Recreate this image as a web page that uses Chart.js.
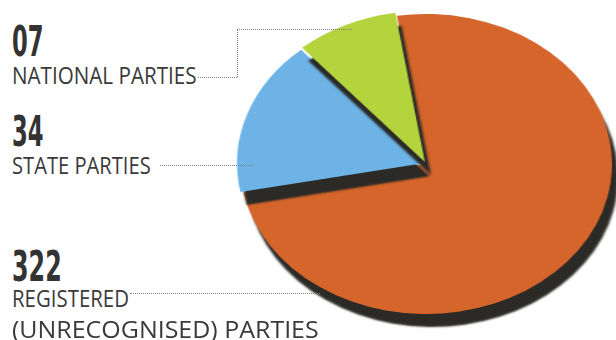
<!DOCTYPE html>
<html>
<head>
<meta charset="utf-8">
<script src="https://cdn.jsdelivr.net/npm/chart.js@4.4.1/dist/chart.umd.min.js"></script>
<style>
  html, body { margin: 0; padding: 0; background: #fff; }
  body { width: 616px; height: 340px; position: relative; overflow: hidden; }
  #pieWrap {
    position: absolute; left: 266px; top: 2px; width: 320px; height: 340px;
    transform: scaleX(1.24); transform-origin: 160px 50%;
  }
  .num, .txt { position: absolute; left: 12px; white-space: nowrap; transform-origin: 0 0; }
  .num { font-family: "DejaVu Sans Condensed", "DejaVu Sans", sans-serif; font-weight: bold; font-size: 42px; line-height: 1; color: #333; }
  .txt { font-family: "Open Sans", "Noto Sans", sans-serif; font-size: 24px; line-height: 1; color: #3a3a3a; }
  .lead { position: absolute; border-color: #7d7d7d; border-style: dotted; border-width: 0; z-index: 2; }
</style>
</head>
<body>
<div id="pieWrap"><canvas id="pieCanvasChart" width="320" height="340"></canvas></div>
<div id="labels"></div>
<div class="lead" style="left:198px; top:77px; width:39px; border-top-width:1px;"></div>
<div class="lead" style="left:237px; top:29px; height:48px; border-left-width:1px;"></div>
<div class="lead" style="left:237px; top:29px; width:115px; border-top-width:1px;"></div>
<div class="lead" style="left:160px; top:165px; width:93px; border-top-width:1px;"></div>
<div class="lead" style="left:130px; top:293px; width:190px; border-top-width:1px;"></div>
<script>
// party counts printed next to the pie
const partyCounts = ["07", "34", "322"];
const partyNames = [
  ["NATIONAL PARTIES"],
  ["STATE PARTIES"],
  ["REGISTERED", "(UNRECOGNISED) PARTIES"],
];

// pie slices, clockwise from the top: the artwork isn't drawn to scale,
// so the shares are the slice angles (degrees)
const sliceLabels = ["Registered (unrecognised) parties", "State parties", "National parties"];
const sliceShare = [268, 60, 32];
const sliceColors = ["#d5652b", "#6db3e6", "#b4d43e"];

document.addEventListener("DOMContentLoaded", () => {
  // text blocks on the left (the source squeezes each line differently)
  const labelBox = document.getElementById("labels");
  const numTops = [21, 111, 246];
  const numSqueeze = [0.6, 0.6, 0.63];
  const lineTops = [[63], [153], [286, 317]];
  const lineSqueeze = [[0.86], [0.84], [0.85, 1.04]];
  partyCounts.forEach((count, i) => {
    const num = document.createElement("div");
    num.className = "num";
    num.style.top = numTops[i] + "px";
    num.style.transform = `scaleX(${numSqueeze[i]})`;
    num.textContent = count;
    labelBox.appendChild(num);
    partyNames[i].forEach((line, j) => {
      const txt = document.createElement("div");
      txt.className = "txt";
      txt.style.top = lineTops[i][j] + "px";
      txt.style.transform = `scaleX(${lineSqueeze[i][j]})`;
      txt.textContent = line;
      labelBox.appendChild(txt);
    });
  });

  // hard dark shadow under the slices for the 3d look
  const pieShadow = {
    id: "pieShadow",
    beforeDatasetDraw(chart) {
      const ctx = chart.ctx;
      ctx.save();
      ctx.shadowColor = "#2b2a27";
      ctx.shadowOffsetX = 5;
      ctx.shadowOffsetY = 13;
      ctx.shadowBlur = 2;
    },
    afterDatasetDraw(chart) {
      chart.ctx.restore();
    },
  };

  const ctxPie = document.getElementById("pieCanvasChart").getContext("2d");
  new Chart(ctxPie, {
    type: "pie",
    data: {
      labels: sliceLabels,
      datasets: [
        {
          data: sliceShare,
          backgroundColor: sliceColors,
          borderWidth: 0,
          offset: [0, 9, 9],
          clip: false,
        },
      ],
    },
    options: {
      responsive: false,
      animation: false,
      rotation: -9,
      layout: { padding: { top: 7.5, bottom: 23.5, left: 5.5, right: 5.5 } },
      plugins: {
        legend: { display: false },
        tooltip: { enabled: false },
      },
    },
    plugins: [pieShadow],
  });
});
</script>
</body>
</html>
